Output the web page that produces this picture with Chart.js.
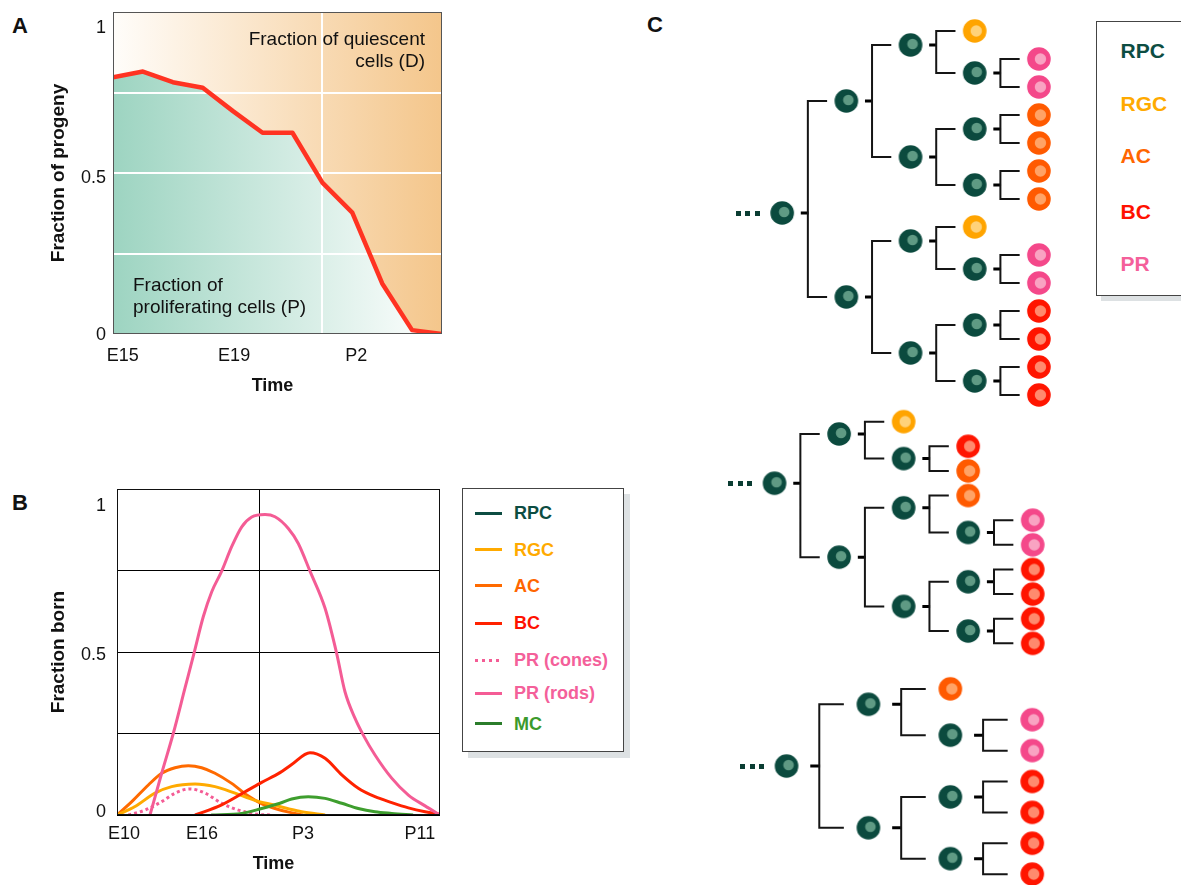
<!DOCTYPE html>
<html>
<head>
<meta charset="utf-8">
<title>Retinal progenitor output</title>
<script src="https://cdn.jsdelivr.net/npm/chart.js@4.4.1/dist/chart.umd.min.js"></script>
<style>
  body { margin: 0; width: 1181px; height: 885px; overflow: hidden; position: relative; background: #fff;
         font-family: "Liberation Sans", Arial, sans-serif; color: #111; }
  canvas, .tag, .legend { position: absolute; }
  .tag { font-weight: bold; font-size: 22px; line-height: 1; }
  .legend { box-sizing: border-box; background: #fff; border: 1px solid #444; }
  .legend div { position: absolute; font-weight: bold; white-space: nowrap; }
</style>
</head>
<body>
<div class="tag" style="left:12px;top:15px">A</div>
<div class="tag" style="left:12px;top:492px">B</div>
<div class="tag" style="left:647px;top:14px">C</div>

<canvas id="chartA" width="460" height="400" style="left:0;top:0"></canvas>
<canvas id="chartB" width="460" height="415" style="left:0;top:470px"></canvas>
<div class="legend" id="legendB" style="left:462px;top:488px;width:162px;height:264px;box-shadow:6px 6px 0 #dde1e3"></div>

<canvas id="tree1" width="353" height="420" style="left:718px;top:3px"></canvas>
<canvas id="tree2" width="355" height="271" style="left:710px;top:397px"></canvas>
<canvas id="tree3" width="344" height="247" style="left:721px;top:658px"></canvas>
<div class="legend" id="legendC" style="left:1096px;top:21px;width:110px;height:275px;box-shadow:5px 5px 0 #dde1e3"></div>

<script>
// ---- Panel A: fraction of progeny still proliferating
const ageLabelsA = ['E15', 'E19', 'P2'];
const ageTicksA = [0.33, 4.05, 8.13];          // sample index under each label
const birthA = 7;
const proliferatingA = [0.797, 0.815, 0.782, 0.765, 0.693, 0.625, 0.625, 0.47, 0.377, 0.157, 0.012, 0];

// ---- Panel B: fraction born, x in days after E10
const ageLabelsB = ['E10', 'E16', 'P3', 'P11'];
const ageTicksB = [0.52, 6.32, 13.82, 22.5];
const birthB = 10.57;
const fracTicks = [0, 0.5, 1];
const fracLabels = ['0', '0.5', '1'];

const rgcDay = [0, 1.34, 2.82, 4.06, 5.8, 7.28, 8.77, 10.25, 11.74, 12.85, 13.72, 15.46];
const rgcFrac = [0, 0.026, 0.067, 0.087, 0.095, 0.087, 0.067, 0.045, 0.03, 0.018, 0.01, 0];
const acDay = [0, 1.1, 2.33, 3.32, 4.31, 5.3, 6.29, 7.28, 8.52, 9.76, 10.77, 11.74, 12.85, 13.82];
const acFrac = [0, 0.041, 0.092, 0.128, 0.145, 0.151, 0.145, 0.128, 0.097, 0.058, 0.034, 0.02, 0.008, 0];
const bcDay = [5.8, 7.78, 9.76, 10.75, 12.11, 12.98, 14.34, 15.46, 16.7, 17.93, 19.17, 20.41, 21.65, 22.89, 24];
const bcFrac = [0, 0.031, 0.077, 0.1, 0.13, 0.155, 0.191, 0.174, 0.123, 0.082, 0.056, 0.038, 0.022, 0.01, 0.002];
const conesDay = [0.84, 2.08, 3.32, 4.31, 5.42, 6.54, 7.78, 9.01, 10.5, 11.52];
const conesFrac = [0, 0.015, 0.041, 0.067, 0.08, 0.067, 0.036, 0.015, 0.002, 0];
const rodsDay = [2.45, 3.32, 4.18, 5.05, 5.72, 6.41, 7.04, 7.78, 8.52, 9.27, 10.01, 11.0, 11.74, 12.73,
                 13.47, 14.34, 15.46, 16.32, 16.94, 17.68, 18.3, 19.17, 20.41, 21.65, 22.89, 24];
const rodsFrac = [0, 0.128, 0.25, 0.389, 0.496, 0.608, 0.685, 0.748, 0.823, 0.884, 0.914, 0.922, 0.915, 0.879,
                  0.833, 0.748, 0.634, 0.496, 0.378, 0.297, 0.245, 0.184, 0.113, 0.061, 0.028, 0];
const mcDay = [7.0, 9.27, 10.75, 12.11, 12.98, 14.21, 15.46, 16.7, 17.93, 19.17, 20.41, 22.0];
const mcFrac = [0, 0.005, 0.02, 0.036, 0.049, 0.056, 0.051, 0.036, 0.02, 0.01, 0.005, 0];

const legendNamesB = ['RPC', 'RGC', 'AC', 'BC', 'PR (cones)', 'PR (rods)', 'MC'];

// ---- Panel C: three lineage trees (generation, row, cell type, parent index)
const tree1Gen = [0, 1, 1, 2, 2, 2, 2, 3, 3, 3, 3, 3, 3, 3, 3, 4, 4, 4, 4, 4, 4, 4, 4, 4, 4, 4, 4];
const tree1Row = [6.5, 2.5, 9.5, 0.5, 4.5, 7.5, 11.5, 0, 1.5, 3.5, 5.5, 7, 8.5, 10.5, 12.5, 1, 2, 3, 4, 5, 6, 8, 9, 10, 11, 12, 13];
const tree1Cell = ['RPC', 'RPC', 'RPC', 'RPC', 'RPC', 'RPC', 'RPC', 'RGC', 'RPC', 'RPC', 'RPC', 'RGC', 'RPC', 'RPC', 'RPC',
                   'PR', 'PR', 'AC', 'AC', 'AC', 'AC', 'PR', 'PR', 'BC', 'BC', 'BC', 'BC'];
const tree1Parent = [-1, 0, 0, 1, 1, 2, 2, 3, 3, 4, 4, 5, 5, 6, 6, 8, 8, 9, 9, 10, 10, 12, 12, 13, 13, 14, 14];

const tree2Gen = [0, 1, 1, 2, 2, 2, 2, 3, 3, 3, 3, 3, 3, 4, 4, 4, 4, 4, 4];
const tree2Row = [2.5, 0.5, 5.5, 0, 1.5, 3.5, 7.5, 1, 2, 3, 4.5, 6.5, 8.5, 4, 5, 6, 7, 8, 9];
const tree2Cell = ['RPC', 'RPC', 'RPC', 'RGC', 'RPC', 'RPC', 'RPC', 'BC', 'AC', 'AC', 'RPC', 'RPC', 'RPC',
                   'PR', 'PR', 'BC', 'BC', 'BC', 'BC'];
const tree2Parent = [-1, 0, 0, 1, 1, 2, 2, 4, 4, 5, 5, 6, 6, 10, 10, 11, 11, 12, 12];

const tree3Gen = [0, 1, 1, 2, 2, 2, 2, 3, 3, 3, 3, 3, 3];
const tree3Row = [2.5, 0.5, 4.5, 0, 1.5, 3.5, 5.5, 1, 2, 3, 4, 5, 6];
const tree3Cell = ['RPC', 'RPC', 'RPC', 'AC', 'RPC', 'RPC', 'RPC', 'PR', 'PR', 'BC', 'BC', 'BC', 'BC'];
const tree3Parent = [-1, 0, 0, 1, 1, 2, 2, 4, 4, 5, 5, 6, 6];

const cellNamesC = ['RPC', 'RGC', 'AC', 'BC', 'PR'];

// ---- colours
const lineColor = { RPC: '#0d4d42', RGC: '#ffaa00', AC: '#ff6a00', BC: '#ff2200', 'PR (cones)': '#f45c95', 'PR (rods)': '#f45c95', MC: '#3e9e2e' };
const legendLine = Object.assign({}, lineColor, { MC: '#2b7d2b' });
const textColor = { RPC: '#0d4d42', RGC: '#ffaa00', AC: '#ff6600', BC: '#ff1100', PR: '#f4609a', 'PR (cones)': '#f4609a', 'PR (rods)': '#f4609a', MC: '#3c9a2c' };
const cellFill = { RPC: ['#0b4a3e', '#5f9a84'], RGC: ['#ffa400', '#ffd27a'], AC: ['#ff5a00', '#ffa366'],
                   BC: ['#ff1500', '#ff8a6e'], PR: ['#f4488a', '#f9a3c2'] };

const FONT = '"Liberation Sans", Arial, sans-serif';

// tick labels, axis titles and free notes drawn against the chart's scales
const axisText = {
  id: 'axisText',
  afterDraw(chart, args, o) {
    const { ctx, chartArea: a, scales: { x, y } } = chart;
    ctx.save();
    ctx.fillStyle = '#111';
    ctx.textBaseline = 'alphabetic';
    ctx.font = '18px ' + FONT;
    ctx.textAlign = 'right';
    o.yTicks.forEach((v, i) => ctx.fillText(o.yLabels[i], o.yLabelRight, y.getPixelForValue(v) + o.yNudge[i]));
    ctx.textAlign = 'center';
    o.xTicks.forEach((v, i) => ctx.fillText(o.xLabels[i], x.getPixelForValue(v), a.bottom + o.xDrop));
    ctx.font = '19px ' + FONT;
    (o.notes || []).forEach(n => {
      ctx.textAlign = n.align;
      n.lines.forEach((t, k) => ctx.fillText(t, n.x, n.y + k * 22));
    });
    ctx.font = 'bold 18px ' + FONT;
    ctx.textAlign = 'center';
    ctx.fillText(o.xTitle, (a.left + a.right) / 2 - 5, a.bottom + o.titleDrop);
    ctx.font = 'bold 19px ' + FONT;
    ctx.translate(o.yTitleX, (a.top + a.bottom) / 2);
    ctx.rotate(-Math.PI / 2);
    ctx.fillText(o.yTitle, 0, 0);
    ctx.restore();
  }
};

const frame = {
  id: 'frame',
  afterDatasetsDraw(chart, args, o) {
    const { ctx, chartArea: a } = chart;
    ctx.save();
    ctx.strokeStyle = o.color;
    ctx.lineWidth = 1;
    ctx.strokeRect(Math.round(a.left) + 0.5, Math.round(a.top) + 0.5, Math.round(a.width) - 1, Math.round(a.height) - 1);
    ctx.restore();
  }
};

function sideFade(chart, from, to) {
  const a = chart.chartArea;
  if (!a) return from;
  const g = chart.ctx.createLinearGradient(a.left, 0, a.right, 0);
  g.addColorStop(0, from);
  g.addColorStop(1, to);
  return g;
}

const hideAxis = { x: s => { s.height = 0; }, y: s => { s.width = 0; } };

// Panel A
new Chart(document.getElementById('chartA'), {
  type: 'line',
  data: {
    labels: proliferatingA.map((v, i) => i),
    datasets: [
      { data: proliferatingA.map((v, i) => ({ x: i, y: v })), borderWidth: 0, pointRadius: 0, fill: 'end',
        backgroundColor: c => sideFade(c.chart, '#fffdfa', '#f4c68b') },
      { data: proliferatingA.map((v, i) => ({ x: i, y: v })), borderColor: '#ff3322', borderWidth: 4.5,
        borderJoinStyle: 'round', pointRadius: 0, fill: 'origin',
        backgroundColor: c => sideFade(c.chart, '#9dd4c1', '#ffffff') }
    ]
  },
  options: {
    animation: false, responsive: false, events: [],
    layout: { autoPadding: false, padding: { left: 113, top: 12, right: 18, bottom: 66 } },
    plugins: {
      legend: { display: false }, tooltip: { enabled: false },
      filler: { drawTime: 'beforeDraw' },
      frame: { color: '#555' },
      axisText: {
        yTicks: fracTicks, yLabels: fracLabels, yNudge: [6, 10, 20.7], yLabelRight: 106,
        xTicks: ageTicksA, xLabels: ageLabelsA, xDrop: 27,
        xTitle: 'Time', titleDrop: 56.5, yTitle: 'Fraction of progeny', yTitleX: 63.5,
        notes: [
          { lines: ['Fraction of quiescent', 'cells (D)'], align: 'right', x: 425, y: 44.5 },
          { lines: ['Fraction of', 'proliferating cells (P)'], align: 'left', x: 133, y: 291 }
        ]
      }
    },
    scales: {
      x: { type: 'linear', min: 0, max: 11, afterFit: hideAxis.x, border: { display: false },
           afterBuildTicks: s => { s.ticks = [{ value: birthA }]; },
           ticks: { display: false }, grid: { color: '#fff', lineWidth: 2, drawTicks: false } },
      y: { min: 0, max: 1, afterFit: hideAxis.y, border: { display: false },
           ticks: { display: false, stepSize: 0.25 },
           grid: { drawTicks: false, lineWidth: 2, color: c => (c.tick.value > 0 && c.tick.value < 1) ? '#fff' : 'transparent' } }
    }
  },
  plugins: [axisText, frame]
});

// Panel B
function curve(days, frac, name, dash) {
  return { label: name, data: days.map((d, i) => ({ x: d, y: frac[i] })), borderColor: lineColor[name],
           borderWidth: 3, borderDash: dash || [], pointRadius: 0, fill: false, cubicInterpolationMode: 'monotone' };
}

new Chart(document.getElementById('chartB'), {
  type: 'line',
  data: {
    datasets: [
      curve(rodsDay, rodsFrac, 'PR (rods)'),
      curve(mcDay, mcFrac, 'MC'),
      curve(bcDay, bcFrac, 'BC'),
      curve(conesDay, conesFrac, 'PR (cones)', [3, 3]),
      curve(rgcDay, rgcFrac, 'RGC'),
      curve(acDay, acFrac, 'AC')
    ]
  },
  options: {
    animation: false, responsive: false, events: [],
    layout: { autoPadding: false, padding: { left: 117, top: 19, right: 20, bottom: 70 } },
    plugins: {
      legend: { display: false }, tooltip: { enabled: false },
      frame: { color: '#111' },
      axisText: {
        yTicks: fracTicks, yLabels: fracLabels, yNudge: [1.7, 8, 21.7], yLabelRight: 106,
        xTicks: ageTicksB, xLabels: ageLabelsB, xDrop: 23.5,
        xTitle: 'Time', titleDrop: 53.5, yTitle: 'Fraction born', yTitleX: 63.5
      }
    },
    scales: {
      x: { type: 'linear', min: 0, max: 24, afterFit: hideAxis.x, border: { display: false },
           afterBuildTicks: s => { s.ticks = [{ value: birthB }]; },
           ticks: { display: false }, grid: { color: '#000', lineWidth: 1, drawTicks: false } },
      y: { min: 0, max: 1, afterFit: hideAxis.y, border: { display: false },
           ticks: { display: false, stepSize: 0.25 }, grid: { color: '#000', lineWidth: 1, drawTicks: false } }
    }
  },
  plugins: [axisText, frame]
});

// legend B
const rowYB = [24.3, 60.7, 96.5, 134, 171, 204, 234.7];
const legB = document.getElementById('legendB');
legendNamesB.forEach((name, i) => {
  const line = document.createElement('div');
  const c = legendLine[name];
  line.style.cssText = 'left:12px;width:27px;height:3px;top:' + (rowYB[i] - 1.5) + 'px;background:' +
    (name === 'PR (cones)' ? 'repeating-linear-gradient(90deg,' + c + ' 0 3px,transparent 3px 7px)' : c);
  legB.appendChild(line);
  const t = document.createElement('div');
  t.textContent = name;
  t.style.cssText = 'left:51px;font-size:18px;line-height:20px;top:' + (rowYB[i] - 10) + 'px;color:' + textColor[name];
  legB.appendChild(t);
});

// legend C
const rowYC = [28.8, 82, 134, 189.7, 242];
const legC = document.getElementById('legendC');
cellNamesC.forEach((name, i) => {
  const t = document.createElement('div');
  t.textContent = name;
  t.style.cssText = 'left:23.5px;font-size:21px;line-height:24px;top:' + (rowYC[i] - 11.75) + 'px;color:' + textColor[name];
  legC.appendChild(t);
});

// Panel C: two-tone cell markers
function cellSprite(type) {
  const c = document.createElement('canvas');
  c.width = 26; c.height = 26;
  const g = c.getContext('2d');
  g.fillStyle = cellFill[type][0];
  g.beginPath(); g.arc(13, 13, 11.8, 0, Math.PI * 2); g.fill();
  g.fillStyle = cellFill[type][1];
  g.beginPath();
  if (type === 'RPC') g.arc(15, 12, 5.3, 0, Math.PI * 2);
  else g.arc(14.5, 13, 5.7, 0, Math.PI * 2);
  g.fill();
  return c;
}
const sprites = {};
cellNamesC.forEach(n => { sprites[n] = cellSprite(n); });

const lineageDots = {
  id: 'lineageDots',
  afterDatasetsDraw(chart, args, o) {
    const { ctx, scales: { x, y } } = chart;
    const px = x.getPixelForValue(o.gen), py = y.getPixelForValue(o.row);
    ctx.save();
    ctx.fillStyle = '#0b3d33';
    [-44, -34.5, -25].forEach(dx => ctx.fillRect(Math.round(px + dx - 2.5), Math.round(py - 2.5), 5, 5));
    ctx.restore();
  }
};

function drawTree(id, gen, row, cell, parent, xRange, yRange) {
  const brackets = [], stems = [];
  gen.forEach((g, i) => {
    const kids = parent.map((p, j) => (p === i ? j : -1)).filter(j => j >= 0);
    if (!kids.length) return;
    const top = Math.min(...kids.map(k => row[k]));
    const bottom = Math.max(...kids.map(k => row[k]));
    brackets.push({ x: g + 0.7, y: top }, { x: g + 0.4, y: top }, { x: g + 0.4, y: bottom }, { x: g + 0.7, y: bottom }, { x: g, y: null });
    stems.push({ x: g + 0.29, y: row[i] }, { x: g + 0.41, y: row[i] }, { x: g, y: null });
  });
  const root = parent.indexOf(-1);
  new Chart(document.getElementById(id), {
    type: 'scatter',
    data: {
      datasets: [
        { type: 'line', data: brackets, borderColor: '#151515', borderWidth: 2, pointRadius: 0, spanGaps: false,
          borderJoinStyle: 'miter', borderCapStyle: 'butt', clip: false },
        { type: 'line', data: stems, borderColor: '#000', borderWidth: 3, pointRadius: 0, spanGaps: false, clip: false },
        { data: gen.map((g, i) => ({ x: g, y: row[i] })), pointStyle: cell.map(c => sprites[c]), pointRadius: 12, clip: false }
      ]
    },
    options: {
      animation: false, responsive: false, events: [],
      layout: { autoPadding: false, padding: 0 },
      plugins: { legend: { display: false }, tooltip: { enabled: false }, lineageDots: { gen: gen[root], row: row[root] } },
      scales: {
        x: { type: 'linear', display: false, min: xRange[0], max: xRange[1] },
        y: { type: 'linear', display: false, reverse: true, min: yRange[0], max: yRange[1] }
      }
    },
    plugins: [lineageDots]
  });
}

drawTree('tree1', tree1Gen, tree1Row, tree1Cell, tree1Parent, [-1, 4.5], [-1, 14]);
drawTree('tree2', tree2Gen, tree2Row, tree2Cell, tree2Parent, [-1, 4.5], [-1, 10]);
drawTree('tree3', tree3Gen, tree3Row, tree3Cell, tree3Parent, [-0.8, 3.4], [-1, 7]);
</script>
</body>
</html>
